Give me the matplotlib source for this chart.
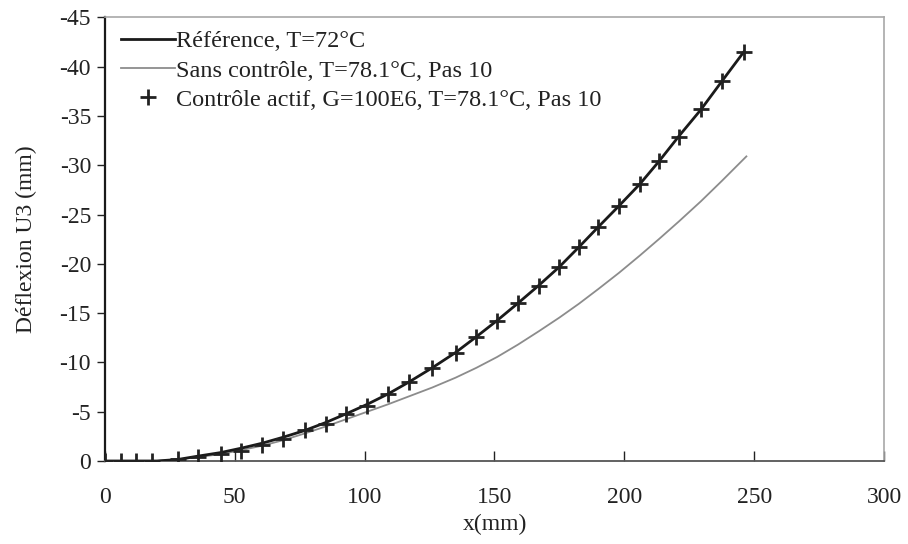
import matplotlib
matplotlib.use("Agg")
import matplotlib.pyplot as plt

plt.rcParams["font.family"] = ["Liberation Serif", "DejaVu Serif"]
plt.rcParams["axes.unicode_minus"] = False

# Position along the beam (mm)
x_ref = [0, 10, 20, 28, 36, 44.5, 52.5, 60.5, 68.5, 77, 85, 93, 101, 109, 117, 126,
         135, 143, 151, 159, 167, 175, 182.5, 190, 198, 206, 213.5, 221, 229.5, 237.5, 246]
# Reference deflection, T=72°C
y_ref = [0, 0, 0, -0.15, -0.5, -0.85, -1.3, -1.8, -2.4, -3.1, -3.9, -4.8, -5.75, -6.8,
         -8.0, -9.45, -11.0, -12.6, -14.25, -16.0, -17.8, -19.7, -21.7, -23.75, -25.9,
         -28.1, -30.45, -32.95, -35.65, -38.5, -41.5]

x_sans = [0, 10, 20, 28, 36, 44.5, 52.5, 60.5, 68.5, 77, 85, 93, 101, 109, 117, 126,
          135, 143, 151, 159, 167, 175, 182.5, 190, 198, 206, 213.5, 221, 229.5, 237.5, 247]
# Without control, T=78.1°C
y_sans = [0, 0, 0, -0.15, -0.4, -0.7, -1.1, -1.55, -2.1, -2.8, -3.5, -4.25, -5.0, -5.75,
          -6.55, -7.45, -8.45, -9.45, -10.55, -11.8, -13.15, -14.55, -15.95, -17.45,
          -19.1, -20.85, -22.55, -24.3, -26.35, -28.4, -30.9]

x_ctrl = [0, 6, 12, 18, 28, 36, 44.5, 52.5, 60.5, 68.5, 77, 85, 93, 101, 109, 117, 126,
          135, 143, 151, 159, 167, 175, 182.5, 190, 198, 206, 213.5, 221, 229.5, 237.5, 246]
# Active control, G=100E6, T=78.1°C
y_ctrl = [0, 0, 0, 0, -0.2, -0.45, -0.7, -1.05, -1.6, -2.2, -3.1, -3.8, -4.8, -5.6, -6.8,
          -8.0, -9.45, -11.0, -12.6, -14.25, -16.0, -17.75, -19.7, -21.7, -23.7, -25.85,
          -28.05, -30.4, -32.9, -35.7, -38.5, -41.5]

x_ticks = [0, 50, 100, 150, 200, 250, 300]
y_ticks = [0, -5, -10, -15, -20, -25, -30, -35, -40, -45]

fig = plt.figure(figsize=(9.08, 5.44), dpi=100)
ax = fig.add_axes([0.1156, 0.1526, 0.858, 0.8154])

ax.plot(x_ref, y_ref, color="#1a1a1a", lw=2.0, label="Référence, T=72°C", zorder=3)
ax.plot(x_sans, y_sans, color="#8c8c8c", lw=1.3, label="Sans contrôle, T=78.1°C, Pas 10", zorder=2)
ax.plot(x_ctrl, y_ctrl, ls="none", marker="+", ms=11, mew=2.0, color="#222222",
        label="Contrôle actif, G=100E6, T=78.1°C, Pas 10", zorder=4)

ax.set_xlim(0, 300)
ax.set_ylim(0, -45)
ax.set_xticks(x_ticks)
ax.set_yticks(y_ticks)
ax.set_xticklabels([str(v) for v in x_ticks])
ax.set_yticklabels([str(v) for v in y_ticks])

ax.tick_params(axis="y", direction="out", length=6, width=1, labelsize=17, pad=4, colors="#222222")
ax.tick_params(axis="x", direction="in", length=7, width=1, labelsize=17, pad=19, colors="#222222")

for side in ("top", "right"):
    ax.spines[side].set_color("#a8a8a8")
    ax.spines[side].set_linewidth(1.2)
ax.spines["left"].set_color("#1a1a1a")
ax.spines["left"].set_linewidth(1.6)
ax.spines["bottom"].set_color("#555555")
ax.spines["bottom"].set_linewidth(1.3)

ax.set_xlabel("x(mm)", fontsize=17, color="#222222", labelpad=4)
ax.set_ylabel("Déflexion U3 (mm)", fontsize=17, color="#222222", labelpad=16)

leg = ax.legend(loc="upper left", bbox_to_anchor=(0.002, 1.004), frameon=False, fontsize=17.5,
                handlelength=2.2, handletextpad=0.05, labelspacing=0.3, borderaxespad=0.2)
for t in leg.get_texts():
    t.set_color("#222222")

fig.savefig("out.png", dpi=100, facecolor="white")
